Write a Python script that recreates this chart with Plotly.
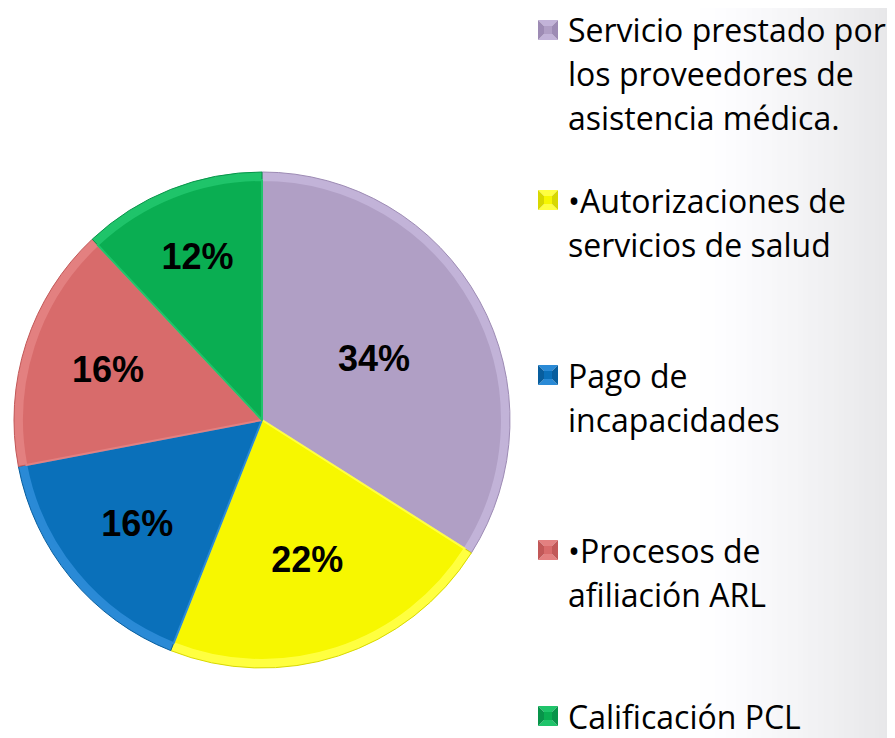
import plotly.graph_objects as go

# ---- data ----
categories = [
    "Servicio prestado por<br>los proveedores de<br>asistencia médica.",
    "•Autorizaciones de<br>servicios de salud",
    "Pago de<br>incapacidades",
    "•Procesos de<br>afiliación ARL",
    "Calificación PCL",
]
values = [34, 22, 16, 16, 12]
colors = ["#B09FC5", "#F7F700", "#0A70BA", "#D86B6B", "#0AAE52"]
rim_colors = ["#C2B3D8", "#FFFF40", "#2A8AD6", "#E38080", "#1FC46A"]
dark_colors = ["#9D8BB4", "#D8D800", "#085E9E", "#C25858", "#08944A"]

OFF = 8                      # page body margin
W, H = 895 - OFF, 738 - OFF  # figure size
cx, cy, r = 262, 420, 248    # pie in page pixels
r_in = 240

def px_x(x):
    return (x - OFF) / W

def px_y(y):
    return 1 - (y - OFF) / H

fig = go.Figure()

# outer rim pie (bevel imitation)
fig.add_trace(go.Pie(
    labels=[c.replace("<br>", " ") for c in categories],
    values=values, sort=False, direction="clockwise", rotation=0,
    marker=dict(colors=rim_colors, line=dict(color=dark_colors, width=1)),
    textinfo="none",
    domain=dict(x=[px_x(cx - r), px_x(cx + r)], y=[px_y(cy + r), px_y(cy - r)]),
    showlegend=False, hoverinfo="skip",
))

fig.add_trace(go.Pie(
    labels=[c.replace("<br>", " ") for c in categories],
    values=values,
    sort=False,
    direction="clockwise",
    rotation=0,
    marker=dict(colors=colors, line=dict(color=rim_colors, width=2)),
    texttemplate="%{percent:.0%}",
    textposition="inside",
    insidetextorientation="horizontal",
    textfont=dict(family="Liberation Sans", size=36, color="black", weight="bold"),
    domain=dict(x=[px_x(cx - r_in), px_x(cx + r_in)], y=[px_y(cy + r_in), px_y(cy - r_in)]),
    showlegend=False,
    hoverinfo="label+percent",
))

# background gradient on the right
shapes = []
x0, x1 = 690, 895
n = 40
for i in range(n):
    xa = x0 + (x1 - x0) * i / n
    xb = x0 + (x1 - x0) * (i + 1) / n + 1
    t = (i + 0.5) / n
    g = int(round(255 - 25 * t ** 1.3))
    shapes.append(dict(type="rect", xref="paper", yref="paper",
                       x0=px_x(xa), x1=min(1.0, px_x(xb)), y0=0, y1=1,
                       fillcolor=f"rgb({g},{g},{min(255, g + 2)})", line=dict(width=0),
                       layer="below"))

# manual legend
legend_centers = [30, 200, 375, 550, 716]
line_gap = 44
annotations = []
for lab, col, rim, dk, yc in zip(categories, colors, rim_colors, dark_colors, legend_centers):
    # bevelled square marker: four triangles
    L, R, T, B = 538, 558, yc - 10, yc + 10
    mx, my = (L + R) / 2, (T + B) / 2
    def P(x, y):
        return f"{px_x(x)},{px_y(y)}"
    tris = [
        ([(L, T), (R, T), (mx, my)], rim),
        ([(L, B), (R, B), (mx, my)], rim),
        ([(L, T), (L, B), (mx, my)], dk),
        ([(R, T), (R, B), (mx, my)], dk),
    ]
    for pts, c in tris:
        path = "M " + " L ".join(P(x, y) for x, y in pts) + " Z"
        shapes.append(dict(type="path", xref="paper", yref="paper", path=path,
                           fillcolor=c, line=dict(width=0)))
    shapes.append(dict(type="rect", xref="paper", yref="paper",
                       x0=px_x(mx - 4), x1=px_x(mx + 4), y0=px_y(my + 4), y1=px_y(my - 4),
                       fillcolor=col, line=dict(width=0)))
    for k, line in enumerate(lab.split("<br>")):
        annotations.append(dict(xref="paper", yref="paper", x=px_x(566), y=px_y(yc + k * line_gap),
                                xanchor="left", yanchor="middle", align="left",
                                text=line, showarrow=False,
                                font=dict(family="Open Sans", size=32, color="black")))

fig.update_layout(
    width=W, height=H,
    margin=dict(l=0, r=0, t=0, b=0),
    paper_bgcolor="white",
    plot_bgcolor="white",
    shapes=shapes,
    annotations=annotations,
)

fig.write_html("out.html")
